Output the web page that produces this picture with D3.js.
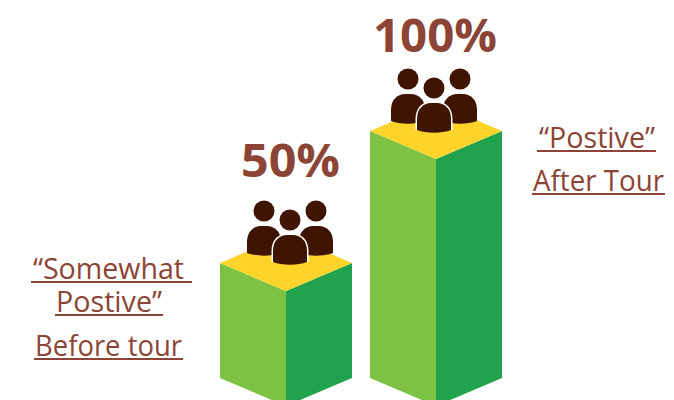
<!DOCTYPE html>
<html>
<head>
<meta charset="utf-8">
<script src="https://cdnjs.cloudflare.com/ajax/libs/d3/7.8.5/d3.min.js"></script>
<style>
html, body { margin: 0; padding: 0; background: #fff; overflow: hidden; }
svg { display: block; }
</style>
</head>
<body>
<script>
var categories = ['Before tour', 'After Tour'];
var values = [50, 100];
var valueLabels = ['50%', '100%'];
var captions = [
    ['\u201CSomewhat', 'Postive\u201D', 'Before tour'],
    ['\u201CPostive\u201D', 'After Tour']
];

var width = 674, height = 400,
    halfW = 66, depth = 28, baseY = 378,
    textColor = '#8b4435', iconColor = '#3f1400';

// one entry per line of caption: text start, text width, baseline, underline ends
var captionLayout = [
    [[33, 151, 279, 31, 192], [56, 106, 312, 55, 163], [35, 147, 356, 34, 183]],
    [[539, 116, 148, 537, 656], [533, 131, 191, 532, 665]]
];
var iconShift = [4, -2];
var labelX = [241, 373], labelW = [99, 124], labelY = [177, 52];

var x = d3.scalePoint().domain(categories).range([286, 436]);
var y = d3.scaleLinear().domain([50, 100]).range([263, 131]);

var svg = d3.select('body').append('svg')
    .attr('width', width)
    .attr('height', height);

var bars = svg.selectAll('g.bar')
    .data(categories)
  .enter().append('g')
    .attr('class', 'bar');

function poly(points) {
    return d3.line()(points) + 'Z';
}

// left face
bars.append('path')
    .attr('fill', '#7dc242')
    .attr('d', function(d, i) {
        var cx = x(d), top = y(values[i]);
        return poly([[cx - halfW, top], [cx, top + depth], [cx, baseY + depth], [cx - halfW, baseY]]);
    });

// right face
bars.append('path')
    .attr('fill', '#21a24c')
    .attr('d', function(d, i) {
        var cx = x(d), top = y(values[i]);
        return poly([[cx, top + depth], [cx + halfW, top], [cx + halfW, baseY], [cx, baseY + depth]]);
    });

// top
bars.append('path')
    .attr('fill', '#ffd42a')
    .attr('d', function(d, i) {
        var cx = x(d), top = y(values[i]);
        return poly([[cx - halfW, top], [cx, top - depth], [cx + halfW, top], [cx, top + depth]]);
    });

var archPath = 'M-17,12 L-17,1 C-17,-10 -10,-15 -3,-15 L3,-15 C10,-15 17,-10 17,1 L17,12';
var bodyPath = archPath + ' C8,15.5 -8,15.5 -17,12 Z';

function person(g, dx, dy, outlined) {
    var p = g.append('g').attr('transform', 'translate(' + dx + ',' + dy + ')');
    p.append('circle')
        .attr('cy', -30)
        .attr('r', 10.5)
        .attr('fill', iconColor);
    if (outlined) {
        // white arc only round the shoulders, the bottom stays open
        p.append('path')
            .attr('d', archPath)
            .attr('fill', 'none')
            .attr('stroke', '#fff')
            .attr('stroke-width', 3);
    }
    p.append('path')
        .attr('d', bodyPath)
        .attr('fill', iconColor);
}

bars.each(function(d, i) {
    var icon = d3.select(this).append('g')
        .attr('transform', 'translate(' + (x(d) + iconShift[i]) + ',' + (y(values[i]) - 13) + ')');
    person(icon, -26, -9, false);
    person(icon, 26, -9, false);
    person(icon, 0, 0, true);
});

bars.append('text')
    .attr('x', function(d, i) { return labelX[i]; })
    .attr('y', function(d, i) { return labelY[i]; })
    .attr('textLength', function(d, i) { return labelW[i]; })
    .attr('lengthAdjust', 'spacingAndGlyphs')
    .attr('font-family', '"Open Sans", sans-serif')
    .attr('font-weight', 700)
    .attr('font-size', 46)
    .attr('fill', textColor)
    .text(function(d, i) { return valueLabels[i]; });

captions.forEach(function(lines, i) {
    lines.forEach(function(line, j) {
        var l = captionLayout[i][j];
        svg.append('text')
            .attr('x', l[0])
            .attr('y', l[2])
            .attr('textLength', l[1])
            .attr('lengthAdjust', 'spacingAndGlyphs')
            .attr('font-family', '"Open Sans", sans-serif')
            .attr('font-size', 29)
            .attr('fill', textColor)
            .text(line);
        svg.append('line')
            .attr('x1', l[3])
            .attr('x2', l[4])
            .attr('y1', l[2] + 3)
            .attr('y2', l[2] + 3)
            .attr('stroke', textColor)
            .attr('stroke-width', 2);
    });
});
</script>
</body>
</html>
